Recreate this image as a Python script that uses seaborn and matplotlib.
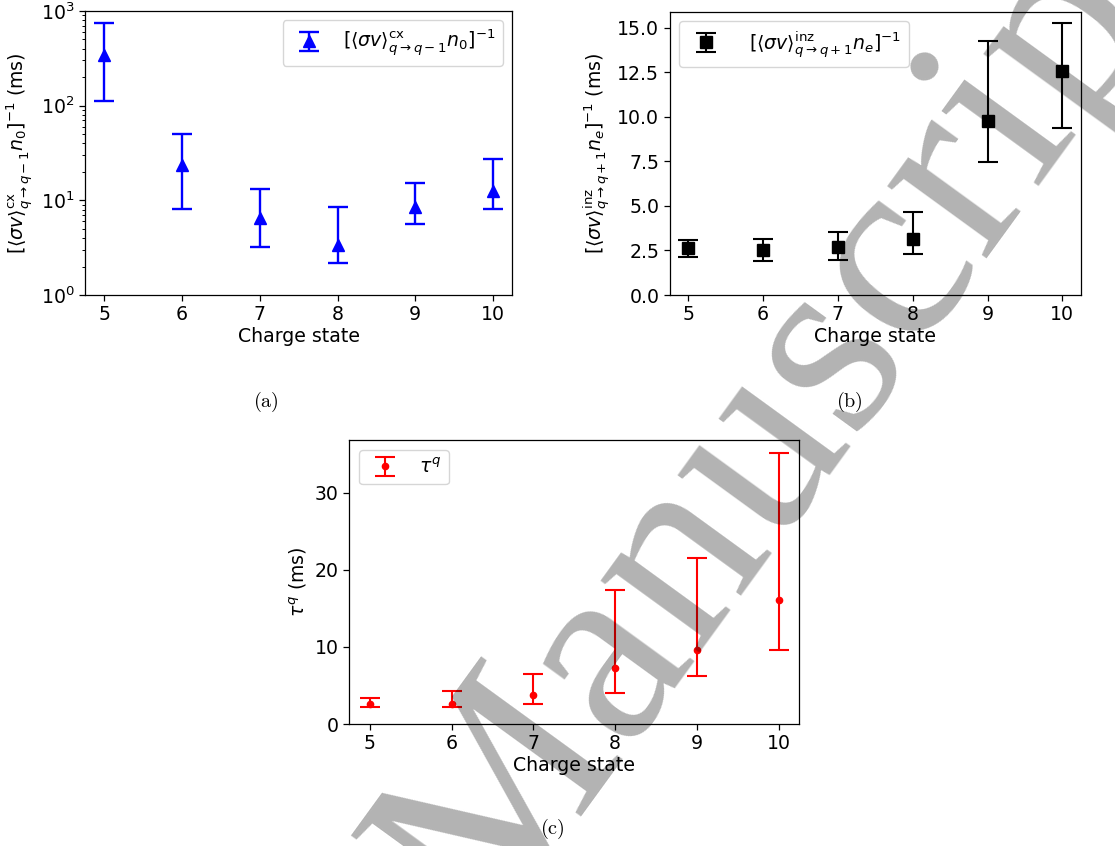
import numpy as np
import pandas as pd
import seaborn as sns
import matplotlib.pyplot as plt

# charge states
charge = [5, 6, 7, 8, 9, 10]

# (a) charge exchange time (ms), value with lower / upper bounds
cx_val = [343, 23.7, 6.5, 3.4, 8.6, 12.6]
cx_lo = [112, 8.1, 3.25, 2.18, 5.6, 8.1]
cx_hi = [753, 50, 13.2, 8.5, 15.1, 27]

# (b) ionization time (ms)
inz_val = [2.62, 2.53, 2.70, 3.16, 9.74, 12.55]
inz_lo = [2.13, 1.91, 1.97, 2.30, 7.45, 9.36]
inz_hi = [3.11, 3.15, 3.52, 4.63, 14.25, 15.24]

# (c) confinement time tau^q (ms)
tau_val = [2.64, 2.64, 3.81, 7.32, 9.65, 16.06]
tau_lo = [2.21, 2.21, 2.55, 4.03, 6.23, 9.65]
tau_hi = [3.42, 4.33, 6.45, 17.4, 21.6, 35.15]

sns.set_style("ticks", {"axes.edgecolor": "black", "xtick.color": "black",
                        "ytick.color": "black", "text.color": "black",
                        "axes.labelcolor": "black"})
plt.rcParams['font.family'] = ['DejaVu Sans']
plt.rcParams['mathtext.fontset'] = 'dejavusans'
plt.rcParams['axes.linewidth'] = 0.9
fs = 13.6

df = pd.DataFrame({'q': charge,
                   'cx': cx_val, 'cx_lo': cx_lo, 'cx_hi': cx_hi,
                   'inz': inz_val, 'inz_lo': inz_lo, 'inz_hi': inz_hi,
                   'tau': tau_val, 'tau_lo': tau_lo, 'tau_hi': tau_hi})

fig = plt.figure(figsize=(11.15, 8.46), dpi=100)
ax_a = fig.add_axes([0.0762, 0.6513, 0.3834, 0.3357])
ax_b = fig.add_axes([0.6006, 0.6513, 0.3689, 0.3349])
ax_c = fig.add_axes([0.3133, 0.1442, 0.4033, 0.3353])

lab_cx = r'$[\langle\sigma v\rangle^{\rm cx}_{q\to q-1}n_0]^{-1}$'
lab_inz = r'$[\langle\sigma v\rangle^{\rm inz}_{q\to q+1}n_e]^{-1}$'
lab_tau = r'$\tau^q$'


def draw(ax, key, color, marker, ms, lw, label):
    err = [df[key] - df[key + '_lo'], df[key + '_hi'] - df[key]]
    ax.errorbar(df['q'], df[key], yerr=err, fmt=marker, color=color, ms=ms,
                lw=lw, capsize=7.2, capthick=lw, label=label)


draw(ax_a, 'cx', 'blue', '^', 8.5, 1.7, lab_cx)
ax_a.set_yscale('log')
ax_a.set_ylim(1, 1000)
ax_a.set_ylabel(lab_cx + ' (ms)', fontsize=fs)
ax_a.legend(loc='upper right', fontsize=fs, frameon=True)

draw(ax_b, 'inz', 'black', 's', 8.5, 1.5, lab_inz)
ax_b.set_ylim(0, 15.9)
ax_b.set_yticks(np.arange(0, 15.1, 2.5))
ax_b.set_ylabel(lab_inz + ' (ms)', fontsize=fs)
ax_b.legend(loc='upper left', fontsize=fs, frameon=True, handletextpad=1.3)

draw(ax_c, 'tau', 'red', 'o', 4.5, 1.5, lab_tau)
ax_c.set_ylim(0, 36.8)
ax_c.set_yticks([0, 10, 20, 30])
ax_c.set_ylabel(r'$\tau^q$ (ms)', fontsize=fs)
ax_c.legend(loc='upper left', fontsize=fs, frameon=True)

for ax in [ax_a, ax_b, ax_c]:
    ax.set_xlim(4.75, 10.25)
    ax.set_xticks(charge)
    ax.set_xlabel('Charge state', fontsize=fs, labelpad=2)
    ax.tick_params(which='major', labelsize=fs, length=4, width=0.9)
    ax.tick_params(which='minor', length=2.3, width=0.7)
    for s in ax.spines.values():
        s.set_visible(True)
        s.set_color('black')
    leg = ax.get_legend()
    leg.get_frame().set_edgecolor('0.8')
    leg.get_frame().set_alpha(0.8)

# subfigure captions
for x, y, t in [(266, 402, '(a)'), (849, 402, '(b)'), (552, 829, '(c)')]:
    fig.text(x / 1115, 1 - y / 846, r'$\mathrm{' + t + '}$', ha='center',
             va='center', fontsize=14.5, math_fontfamily='cm')

# watermark
fig.text(485 / 1115, 1 - 938 / 846, 'Manuscript', family='Liberation Serif',
         fontsize=192, rotation=54, rotation_mode='anchor', ha='left',
         va='baseline', color='black', alpha=0.3, zorder=10)

fig.savefig('out.png', dpi=100)
